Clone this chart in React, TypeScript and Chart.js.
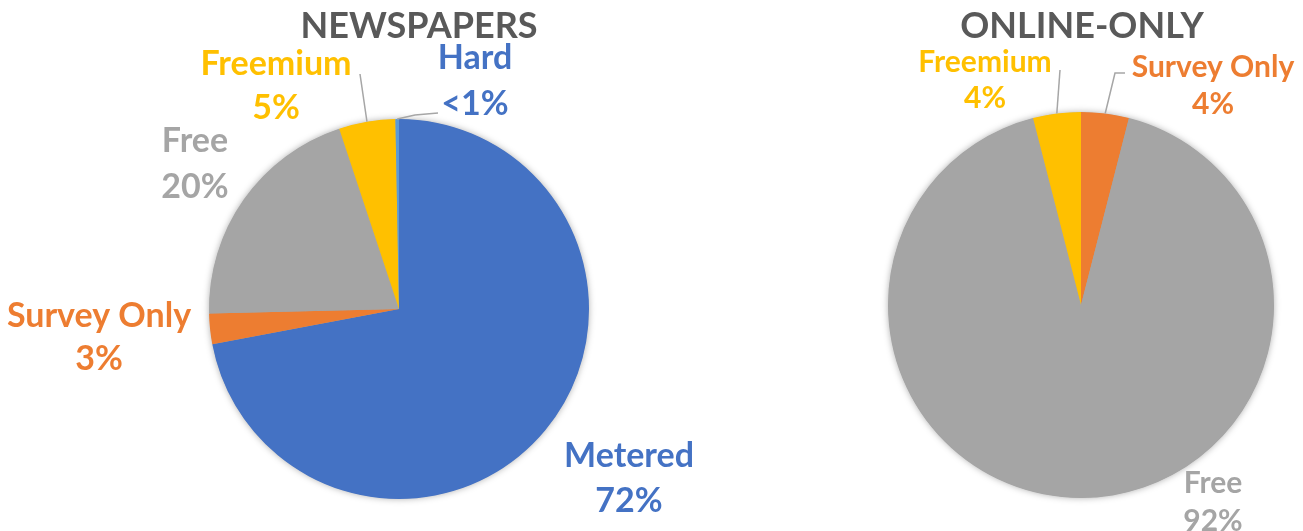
import React, { useEffect, useRef } from 'react';
import { Chart, registerables } from 'chart.js';

Chart.register(...registerables);

const FONT = 'Lato, "Open Sans", "DejaVu Sans", sans-serif';

// ---------- data ----------
const newsLabels = ['Metered', 'Survey Only', 'Free', 'Freemium', 'Hard'];
const newsValues = [72.1, 2.6, 20.3, 4.8, 0.3];
const newsPctText = ['72%', '3%', '20%', '5%', '<1%'];

const onlineLabels = ['Survey Only', 'Free', 'Freemium'];
const onlineValues = [4, 92, 4];
const onlinePctText = ['4%', '92%', '4%'];

// ---------- styles ----------
const newsSliceColors = ['#4472C4', '#ED7D31', '#A5A5A5', '#FFC000', '#5B9BD5'];
const newsTextColors = ['#4472C4', '#ED7D31', '#A5A5A5', '#FFC000', '#4472C4'];
const onlineSliceColors = ['#ED7D31', '#A5A5A5', '#FFC000'];
const onlineTextColors = ['#ED7D31', '#A5A5A5', '#FFC000'];

type LabelPos = { dx: number; dy: number; gap: number; leader?: number[][] };

const newsLabelPos: LabelPos[] = [
  { dx: 230, dy: 146, gap: 45 },
  { dx: -300, dy: 6, gap: 43 },
  { dx: -204, dy: -169, gap: 46 },
  { dx: -123, dy: -246, gap: 44, leader: [[-39, -235]] },
  { dx: 76, dy: -252, gap: 46, leader: [[16, -194], [39, -196]] },
];
const onlineLabelPos: LabelPos[] = [
  { dx: 132, dy: -239, gap: 37, leader: [[34, -232], [44, -232]] },
  { dx: 132, dy: 177, gap: 38 },
  { dx: -96, dy: -244, gap: 36, leader: [[-21, -235]] },
];

const decorPlugin = {
  id: 'decor',
  beforeDatasetsDraw(chart: any) {
    const meta = chart.getDatasetMeta(0);
    const arc = meta.data[0];
    if (!arc) return;
    const { x, y, outerRadius } = arc.getProps(['x', 'y', 'outerRadius'], true);
    const ctx = chart.ctx;
    ctx.save();
    ctx.shadowColor = 'rgba(0,0,0,0.35)';
    ctx.shadowBlur = 7;
    ctx.fillStyle = '#A5A5A5';
    ctx.beginPath();
    ctx.arc(x, y, outerRadius - 0.5, 0, Math.PI * 2);
    ctx.fill();
    ctx.restore();
  },
  afterDraw(chart: any, _args: any, opts: any) {
    const ctx = chart.ctx;
    const meta = chart.getDatasetMeta(0);
    const first = meta.data[0];
    if (!first) return;
    const { x: cx, y: cy } = first.getProps(['x', 'y'], true);

    ctx.save();
    ctx.fillStyle = '#595959';
    ctx.font = `bold ${opts.titleSize}px ${FONT}`;
    ctx.textAlign = 'center';
    ctx.textBaseline = 'alphabetic';
    ctx.fillText(opts.title, opts.titleX, opts.titleY + opts.titleSize * 0.36);

    const labels: string[] = chart.data.labels;
    const size = opts.fontSize;
    meta.data.forEach((el: any, i: number) => {
      const pos: LabelPos = opts.positions[i];
      if (!pos) return;
      const { startAngle, endAngle, outerRadius } = el.getProps(
        ['startAngle', 'endAngle', 'outerRadius'], true);
      if (pos.leader) {
        const mid = (startAngle + endAngle) / 2;
        ctx.strokeStyle = '#A6A6A6';
        ctx.lineWidth = 1.5;
        ctx.beginPath();
        ctx.moveTo(cx + Math.cos(mid) * outerRadius, cy + Math.sin(mid) * outerRadius);
        pos.leader.forEach((p) => ctx.lineTo(cx + p[0], cy + p[1]));
        ctx.stroke();
      }
      ctx.fillStyle = opts.textColors[i];
      ctx.font = `bold ${size}px ${FONT}`;
      const lx = cx + pos.dx;
      const ly = cy + pos.dy + size * 0.36;
      ctx.fillText(labels[i], lx, ly);
      ctx.fillText(opts.pctText[i], lx, ly + pos.gap);
    });
    ctx.restore();
  },
};

type PieProps = {
  left: number;
  width: number;
  labels: string[];
  values: number[];
  colors: string[];
  padding: { left: number; right: number; top: number; bottom: number };
  decor: any;
};

function Pie({ left, width, labels, values, colors, padding, decor }: PieProps) {
  const ref = useRef<HTMLCanvasElement>(null);
  useEffect(() => {
    if (!ref.current) return;
    const chart = new Chart(ref.current, {
      type: 'pie',
      data: {
        labels,
        datasets: [{ data: values, backgroundColor: colors, borderWidth: 0 }],
      },
      options: {
        responsive: false,
        animation: false,
        layout: { padding },
        plugins: {
          legend: { display: false },
          tooltip: { enabled: false },
          title: { display: false },
          decor,
        } as any,
      },
      plugins: [decorPlugin as any],
    });
    return () => chart.destroy();
  }, []);
  return (
    <canvas
      ref={ref}
      width={width}
      height={531}
      style={{ position: 'absolute', left, top: 0, width, height: 531, display: 'block' }}
    />
  );
}

export default function App() {
  return (
    <div style={{ position: 'absolute', left: 0, top: 0, width: 1303, height: 531, background: '#fff' }}>
      <Pie
        left={0}
        width={760}
        labels={newsLabels}
        values={newsValues}
        colors={newsSliceColors}
        padding={{ left: 209, right: 171, top: 119, bottom: 32 }}
        decor={{
          title: 'NEWSPAPERS',
          titleX: 419,
          titleY: 25.5,
          titleSize: 36,
          fontSize: 34,
          positions: newsLabelPos,
          textColors: newsTextColors,
          pctText: newsPctText,
        }}
      />
      <Pie
        left={651}
        width={652}
        labels={onlineLabels}
        values={onlineValues}
        colors={onlineSliceColors}
        padding={{ left: 237, right: 29, top: 112, bottom: 33 }}
        decor={{
          title: 'ONLINE-ONLY',
          titleX: 431,
          titleY: 25,
          titleSize: 36,
          fontSize: 30,
          positions: onlineLabelPos,
          textColors: onlineTextColors,
          pctText: onlinePctText,
        }}
      />
    </div>
  );
}
